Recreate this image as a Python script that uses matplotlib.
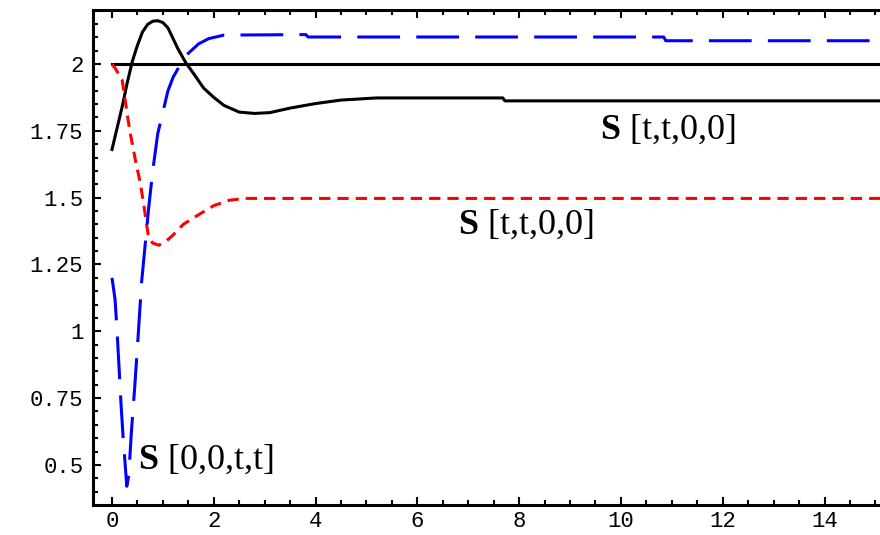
"""
Réplica de la figura: respuestas S[t,t,0,0] y S[0,0,t,t] frente a t,
estilo Mathematica (marco con ticks hacia dentro, fuente monoespaciada).
"""

import matplotlib
matplotlib.use("Agg")

import matplotlib.pyplot as plt
import numpy as np
from matplotlib.ticker import FixedLocator, MultipleLocator

plt.rcParams["mathtext.fontset"] = "custom"
plt.rcParams["mathtext.rm"] = "Liberation Serif"
plt.rcParams["mathtext.bf"] = "Liberation Serif:bold"

# --- datos ---
t_ref = np.array([0.0, 15.2])
s_ref = np.array([2.0, 2.0])

t_negro = np.array([0.0, 0.1, 0.2, 0.3, 0.4, 0.5, 0.6, 0.7, 0.8, 0.9, 1.0, 1.1, 1.2,
                    1.3, 1.45, 1.6, 1.8, 2.0, 2.2, 2.5, 2.8, 3.1, 3.5, 4.0, 4.5, 5.2,
                    7.68, 7.72, 15.2])
s_negro = np.array([1.68, 1.76, 1.84, 1.93, 2.01, 2.07, 2.12, 2.148, 2.16, 2.162, 2.155,
                    2.135, 2.095, 2.055, 2.005, 1.965, 1.91, 1.875, 1.845, 1.82, 1.815,
                    1.818, 1.835, 1.852, 1.865, 1.873, 1.873, 1.862, 1.862])

t_rojo = np.array([0.0, 0.06, 0.2, 0.27, 0.35, 0.45, 0.55, 0.62, 0.68, 0.72, 0.8, 0.92,
                   1.05, 1.2, 1.4, 1.65, 2.0, 2.3, 2.6, 15.2])
s_rojo = np.array([2.0, 1.985, 1.94, 1.85, 1.75, 1.65, 1.56, 1.48, 1.40, 1.35, 1.33,
                   1.322, 1.335, 1.36, 1.40, 1.43, 1.47, 1.49, 1.497, 1.497])

t_azul = np.array([0.0, 0.06, 0.10, 0.14, 0.18, 0.22, 0.26, 0.29, 0.33, 0.38, 0.45, 0.52,
                   0.58, 0.65, 0.72, 0.80, 0.90, 1.0, 1.1, 1.2, 1.35, 1.5, 1.7, 1.9, 2.2,
                   3.81, 3.85, 10.84, 10.88, 15.2])
s_azul = np.array([1.20, 1.12, 1.00, 0.86, 0.72, 0.60, 0.50, 0.42, 0.46, 0.62, 0.80, 1.00,
                   1.18, 1.32, 1.46, 1.60, 1.74, 1.82, 1.90, 1.95, 2.00, 2.04, 2.075,
                   2.095, 2.108, 2.11, 2.101, 2.101, 2.087, 2.087])

xticks = [0, 2, 4, 6, 8, 10, 12, 14]
yticks = [0.5, 0.75, 1.0, 1.25, 1.5, 1.75, 2.0]
ytick_labels = ["0.5", "0.75", "1", "1.25", "1.5", "1.75", "2"]

etiquetas = [
    (9.59, 1.753, r"$\mathbf{S}$ [t,t,0,0]"),
    (6.80, 1.398, r"$\mathbf{S}$ [t,t,0,0]"),
    (0.51, 0.518, r"$\mathbf{S}$ [0,0,t,t]"),
]


def main() -> None:
    fig = plt.figure(figsize=(8.8, 5.35), dpi=100)
    ax = fig.add_axes([93 / 880, 30 / 535, 787 / 880, 495 / 535])

    lw = 2.2
    ax.plot(t_ref, s_ref, color="black", lw=lw)
    ax.plot(t_negro, s_negro, color="black", lw=lw)
    ax.plot(t_rojo, s_rojo, color="#ff0000", lw=lw, dashes=(3.7, 2.3))
    ax.plot(t_azul, s_azul, color="#0000ff", lw=lw, dashes=(14, 5.3))

    for x, y, txt in etiquetas:
        ax.text(x, y, txt, fontsize=26, family="Liberation Serif", va="center", ha="left")

    ax.set_xlim(-0.373, 15.09)
    ax.set_ylim(0.35, 2.202)

    ax.xaxis.set_major_locator(FixedLocator(xticks))
    ax.xaxis.set_minor_locator(MultipleLocator(0.5))
    ax.yaxis.set_major_locator(FixedLocator(yticks))
    ax.set_yticklabels(ytick_labels)
    ax.yaxis.set_minor_locator(MultipleLocator(0.05))

    for s in ["left", "bottom", "top"]:
        ax.spines[s].set_linewidth(2.2)
    ax.spines["right"].set_visible(False)

    ax.tick_params(which="both", direction="in", top=True, right=False, width=1.5, color="black")
    ax.tick_params(which="major", length=6, labelsize=16)
    ax.tick_params(axis="x", which="major", pad=4)
    ax.tick_params(axis="y", which="major", pad=7)
    ax.tick_params(which="minor", length=3.5)
    for lab in ax.get_xticklabels() + ax.get_yticklabels():
        lab.set_family("Liberation Mono")

    fig.savefig("out.png", dpi=100)


if __name__ == "__main__":
    main()
